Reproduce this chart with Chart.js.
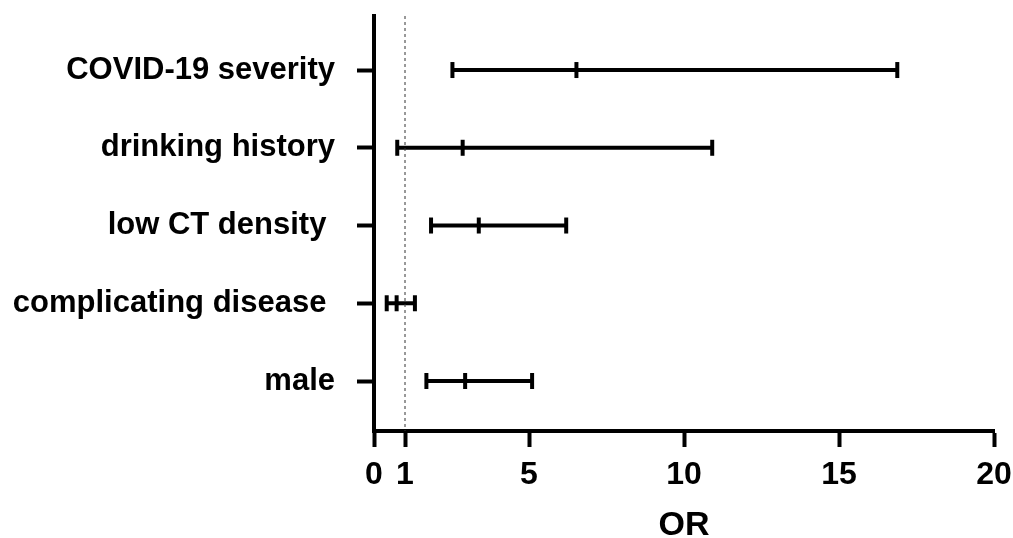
<!DOCTYPE html>
<html>
<head>
<meta charset="utf-8">
<script src="https://cdn.jsdelivr.net/npm/chart.js@4.4.1/dist/chart.umd.min.js"></script>
<style>
  html, body { margin: 0; padding: 0; background: #fff; }
  #wrap { width: 1013px; height: 538px; position: relative; }
</style>
</head>
<body>
<div id="wrap"><canvas id="chart"></canvas></div>
<script>
// forest plot data (odds ratio with 95% CI)
const categories = ["COVID-19 severity", "drinking history", "low CT density ", "complicating disease ", "male"];
const orValues = [6.53, 2.86, 3.38, 0.73, 2.94];
const ciLow = [2.53, 0.75, 1.84, 0.41, 1.69];
const ciHigh = [16.88, 10.91, 6.20, 1.32, 5.10];
const xTicks = [0, 1, 5, 10, 15, 20];
const refLine = 1;

const yMin = -0.695;
const yMax = 4.643;
const lw = 4;
const font = "'Liberation Sans', Arial, sans-serif";

const datasets = [];

// dotted line at OR = 1
datasets.push({
    data: [{ x: refLine, y: yMin }, { x: refLine, y: yMax }],
    showLine: true,
    borderColor: "#333",
    borderWidth: 1,
    borderDash: [3, 3],
    pointRadius: 0
});

// CI lines
categories.forEach((c, i) => {
    datasets.push({
        data: [{ x: ciLow[i], y: i }, { x: ciHigh[i], y: i }],
        showLine: true,
        borderColor: "#000",
        borderWidth: lw,
        borderCapStyle: "butt",
        pointRadius: 0
    });
});

// caps + point estimate marks
const marks = [];
categories.forEach((c, i) => {
    marks.push({ x: ciLow[i], y: i });
    marks.push({ x: orValues[i], y: i });
    marks.push({ x: ciHigh[i], y: i });
});
datasets.push({
    data: marks,
    showLine: false,
    pointStyle: "line",
    rotation: 90,
    pointRadius: 8,
    pointBorderWidth: lw,
    pointBorderColor: "#000",
    pointBackgroundColor: "#000"
});

new Chart(document.getElementById("chart"), {
    type: "scatter",
    data: { datasets: datasets },
    options: {
        responsive: true,
        maintainAspectRatio: false,
        animation: false,
        events: [],
        layout: { padding: { top: 16, left: 0, right: 19, bottom: 0 } },
        plugins: { legend: { display: false }, tooltip: { enabled: false } },
        scales: {
            x: {
                type: "linear",
                min: 0,
                max: 20,
                afterBuildTicks: (scale) => {
                    scale.ticks = xTicks.map((v) => ({ value: v }));
                },
                afterFit: (scale) => {
                    scale.height = 107;
                    scale.paddingLeft = 0;
                    scale.paddingRight = 0;
                },
                grid: { drawOnChartArea: false, drawTicks: true, tickLength: 16, tickWidth: lw, tickColor: "#000" },
                border: { display: true, color: "#000", width: lw },
                ticks: {
                    color: "#000",
                    padding: 9,
                    maxRotation: 0,
                    autoSkip: false,
                    font: { family: font, size: 32, weight: "bold" }
                },
                title: {
                    display: true,
                    text: "OR",
                    color: "#000",
                    padding: { top: 0, bottom: 0 },
                    font: { family: font, size: 34, weight: "bold", lineHeight: 0.7 }
                }
            },
            y: {
                type: "linear",
                reverse: true,
                min: yMin,
                max: yMax,
                afterBuildTicks: (scale) => {
                    scale.ticks = categories.map((c, i) => ({ value: i }));
                },
                afterFit: (scale) => {
                    scale.width = 374;
                    scale.paddingTop = 0;
                    scale.paddingBottom = 0;
                },
                grid: { drawOnChartArea: false, drawTicks: true, tickLength: 17, tickWidth: lw, tickColor: "#000" },
                border: { display: true, color: "#000", width: lw },
                ticks: {
                    color: "#000",
                    padding: 22,
                    autoSkip: false,
                    callback: (v) => categories[v],
                    font: { family: font, size: 31, weight: "bold", lineHeight: 1 }
                }
            }
        }
    }
});
</script>
</body>
</html>
